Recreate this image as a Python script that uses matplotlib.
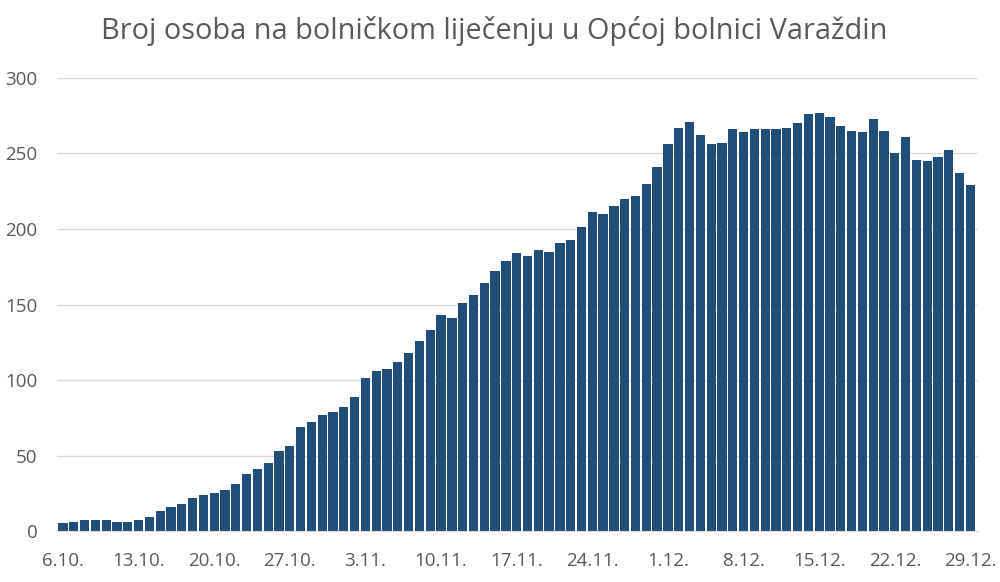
import numpy as np
import matplotlib.pyplot as plt

plt.rcParams['font.family'] = ['Open Sans', 'DejaVu Sans']

# broj hospitaliziranih po danu, 6.10. - 29.12.
dates = [f"{d}.10." for d in range(6, 32)] + \
        [f"{d}.11." for d in range(1, 31)] + \
        [f"{d}.12." for d in range(1, 30)]
patients = [5, 6, 7, 7, 7, 6, 6, 7, 9, 13, 16, 18, 22, 24, 25, 27, 31, 38, 41, 45,
            53, 56, 69, 72, 77, 79, 82, 89, 101, 106, 107, 112, 118, 126, 133, 143,
            141, 151, 156, 164, 172, 179, 184, 182, 186, 185, 191, 193, 201, 211,
            210, 215, 220, 222, 230, 241, 256, 267, 271, 262, 256, 257, 266, 264,
            266, 266, 266, 267, 270, 276, 277, 274, 268, 265, 264, 273, 265, 250,
            261, 246, 245, 248, 252, 237, 229]
yticks = [0, 50, 100, 150, 200, 250, 300]

grey = '#595959'
fig = plt.figure(figsize=(10, 5.82), dpi=100)
ax = fig.add_axes([0.057, 0.0876, 0.921, 0.7784])

x = np.arange(len(patients))
ax.bar(x, patients, width=0.86, color='#1f4e79', zorder=2)

ax.set_xlim(-0.55, len(patients) - 0.3)
ax.set_ylim(0, 300)
ax.set_yticks(yticks)
ax.grid(axis='y', color='#d9d9d9', linewidth=1, zorder=0)
ax.set_xticks(x[::7])
ax.set_xticklabels(dates[::7])
ax.tick_params(axis='both', length=0, colors=grey, labelsize=13.5)
ax.tick_params(axis='y', pad=14)
ax.tick_params(axis='x', pad=15)
for s in ['top', 'right', 'left']:
    ax.spines[s].set_visible(False)
ax.spines['bottom'].set_color('#d9d9d9')

fig.text(0.494, 0.946, "Broj osoba na bolničkom liječenju u Općoj bolnici Varaždin",
         ha='center', va='center', fontsize=20.8, color=grey)

fig.savefig("out.png", dpi=100)
